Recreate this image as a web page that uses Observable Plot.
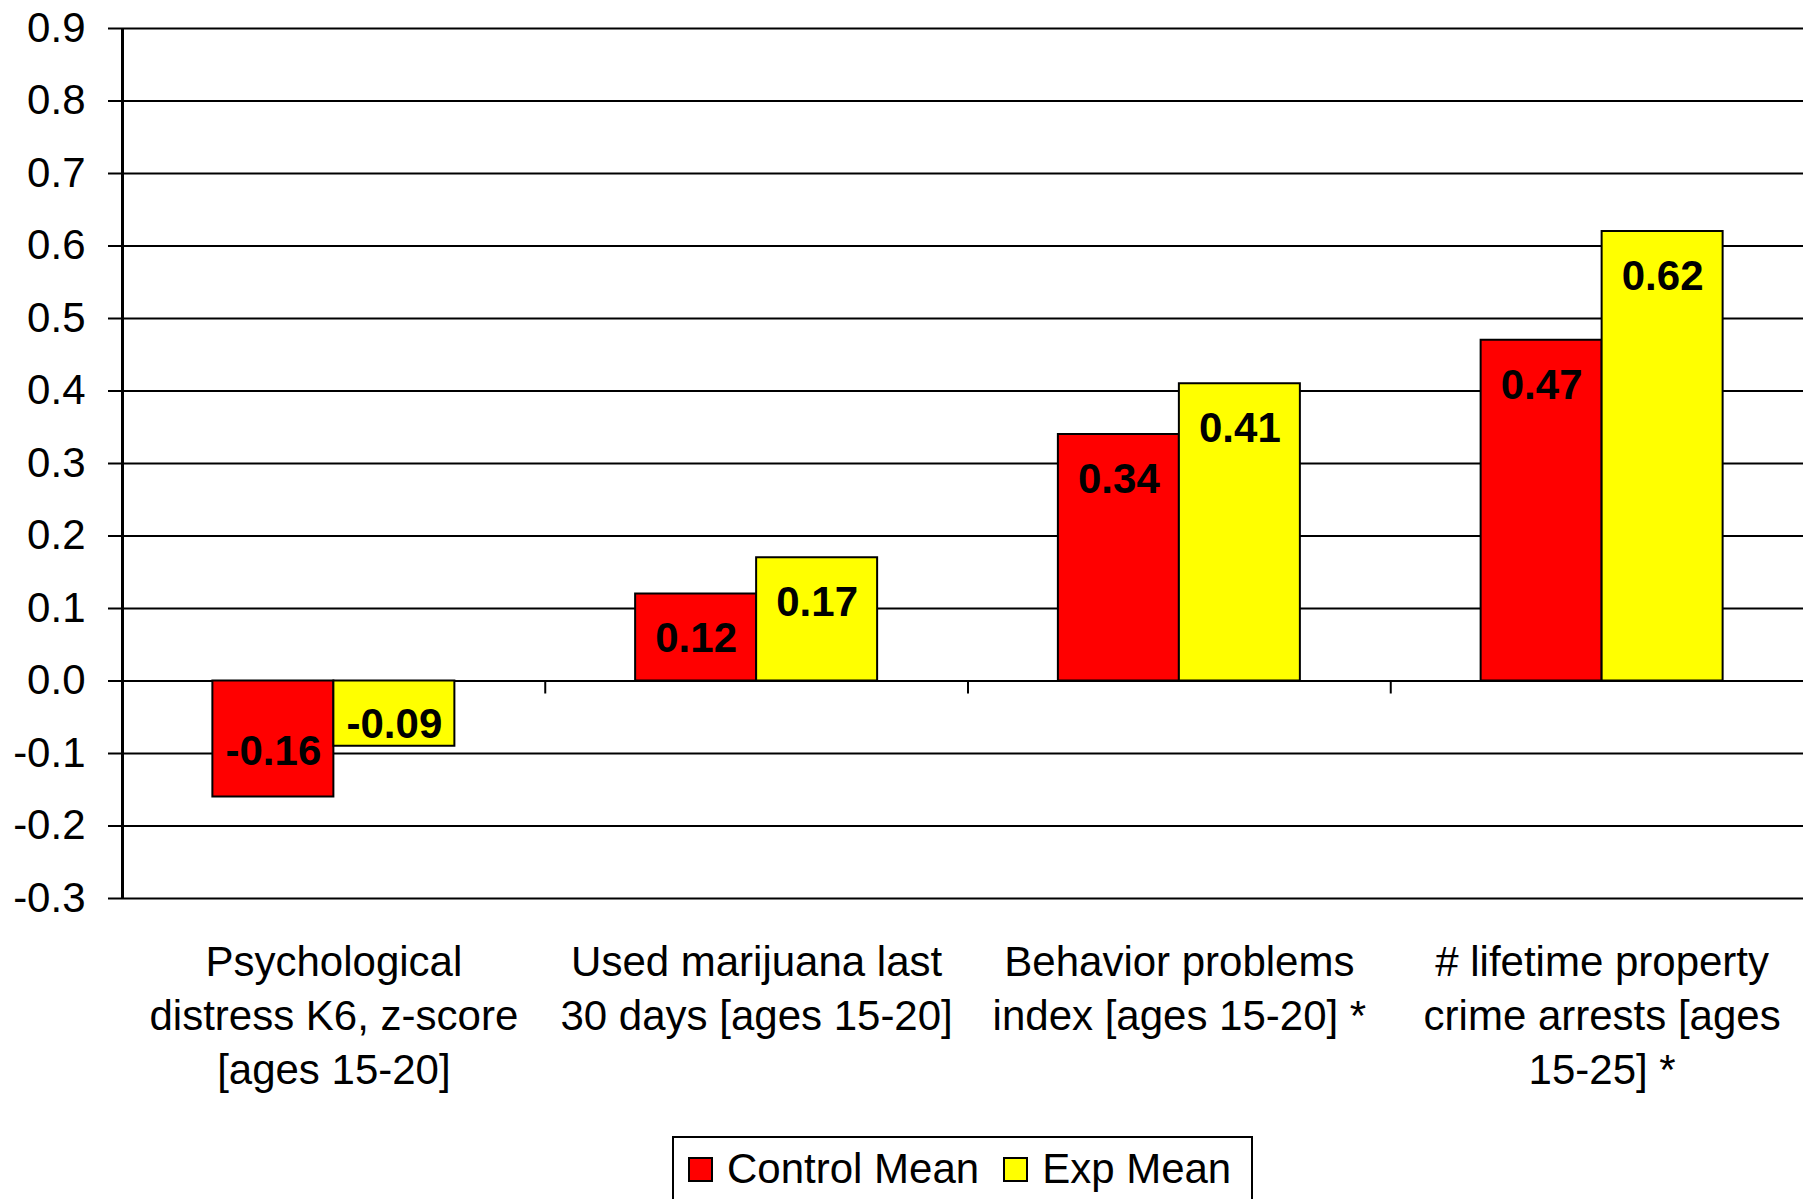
<!DOCTYPE html>
<html><head><meta charset="utf-8">
<script src="https://cdn.jsdelivr.net/npm/d3@7"></script>
<script src="https://cdn.jsdelivr.net/npm/@observablehq/plot@0.6"></script>
<style>
html,body{margin:0;padding:0;background:#fff;overflow:hidden;}
body{position:relative;width:1803px;height:1199px;font-family:"Liberation Sans",Arial,sans-serif;color:#000;}
#chart svg{display:block;}
#legend{position:absolute;left:672px;top:1136px;width:581px;height:80px;box-sizing:border-box;border:2px solid #000;background:#fff;}
#legend .row{display:flex;align-items:center;height:62px;padding-left:14px;font-size:42px;line-height:1;}
#legend .sw{width:25px;height:25px;box-sizing:border-box;border:2px solid #000;flex:none;}
#legend .lab{margin-left:14px;}
</style>
</head>
<body>
<div id="chart"></div>
<div id="legend"></div>
<script>
const categories = ["Psychological distress", "Used marijuana", "Behavior problems", "Property crime arrests"];
const categoryLabels = [
  "Psychological\ndistress K6, z-score\n[ages 15-20]",
  "Used marijuana last\n30 days [ages 15-20]",
  "Behavior problems\nindex [ages 15-20] *",
  "# lifetime property\ncrime arrests [ages\n15-25] *"
];
const seriesNames = ["Control Mean", "Exp Mean"];
const controlMean = [-0.16, 0.12, 0.34, 0.47];
const expMean = [-0.09, 0.17, 0.41, 0.62];
const yTicks = [-0.3, -0.2, -0.1, 0.0, 0.1, 0.2, 0.3, 0.4, 0.5, 0.6, 0.7, 0.8, 0.9];
const seriesColors = ["#ff0000", "#ffff00"];

const W = 1803, H = 1130, mL = 122, mR = -10, mT = 28, mB = 232;
const step = (W - mR - mL) / categories.length;
const half = step / 2;
const barW = 121;
const pxPerUnit = (H - mB - mT) / (yTicks[yTicks.length - 1] - yTicks[0]);

const control = categories.map((c, i) => ({cat: c, series: seriesNames[0], value: controlMean[i]}));
const exp = categories.map((c, i) => ({cat: c, series: seriesNames[1], value: expMean[i]}));

const labelY = d => d.value >= 0 ? d.value - 45 / pxPerUnit : Math.min(d.value + 45 / pxPerUnit, -44 / pxPerUnit);

const chart = Plot.plot({
  width: W, height: H,
  marginLeft: mL, marginRight: mR, marginTop: mT, marginBottom: mB,
  style: {fontFamily: "Liberation Sans, Arial, sans-serif", fontSize: "42px", color: "#000", background: "#fff"},
  x: {type: "band", domain: categories, padding: 0, round: false, axis: null},
  y: {domain: [yTicks[0], yTicks[yTicks.length - 1]]},
  marks: [
    Plot.ruleY(yTicks, {stroke: "#000", strokeWidth: 2}),
    Plot.barY(control, {x: "cat", y: "value", fill: seriesColors[0], stroke: "#000", strokeWidth: 2, insetLeft: half - barW, insetRight: half}),
    Plot.barY(exp, {x: "cat", y: "value", fill: seriesColors[1], stroke: "#000", strokeWidth: 2, insetLeft: half, insetRight: half - barW}),
    Plot.text(control, {x: "cat", y: labelY, text: d => d.value.toFixed(2), dx: -barW / 2, fontSize: 42, fontWeight: "bold", fill: "#000"}),
    Plot.text(exp, {x: "cat", y: labelY, text: d => d.value.toFixed(2), dx: barW / 2, fontSize: 42, fontWeight: "bold", fill: "#000"}),
    Plot.ruleX(categories, {x: d => d, y1: 0, y2: -13 / pxPerUnit, dx: -half, stroke: "#000", strokeWidth: 2}),
    Plot.ruleX([categories[0]], {x: d => d, dx: -half, stroke: "#000", strokeWidth: 3}),
    Plot.axisY({ticks: yTicks, tickSize: 14, tickPadding: 23, tickFormat: d => d.toFixed(1), fontSize: 42, strokeWidth: 2, label: null}),
    Plot.text(categories, {x: d => d, text: (d, i) => categoryLabels[i], frameAnchor: "bottom", lineAnchor: "top", dy: 39, fontSize: 42, lineHeight: 1.286, fill: "#000"})
  ]
});
document.getElementById("chart").appendChild(chart);

const legend = document.getElementById("legend");
const row = document.createElement("div");
row.className = "row";
seriesNames.forEach((name, i) => {
  const sw = document.createElement("span");
  sw.className = "sw";
  sw.style.background = seriesColors[i];
  if (i > 0) sw.style.marginLeft = "24px";
  const lab = document.createElement("span");
  lab.className = "lab";
  lab.textContent = name;
  row.appendChild(sw);
  row.appendChild(lab);
});
legend.appendChild(row);
</script>
</body></html>
